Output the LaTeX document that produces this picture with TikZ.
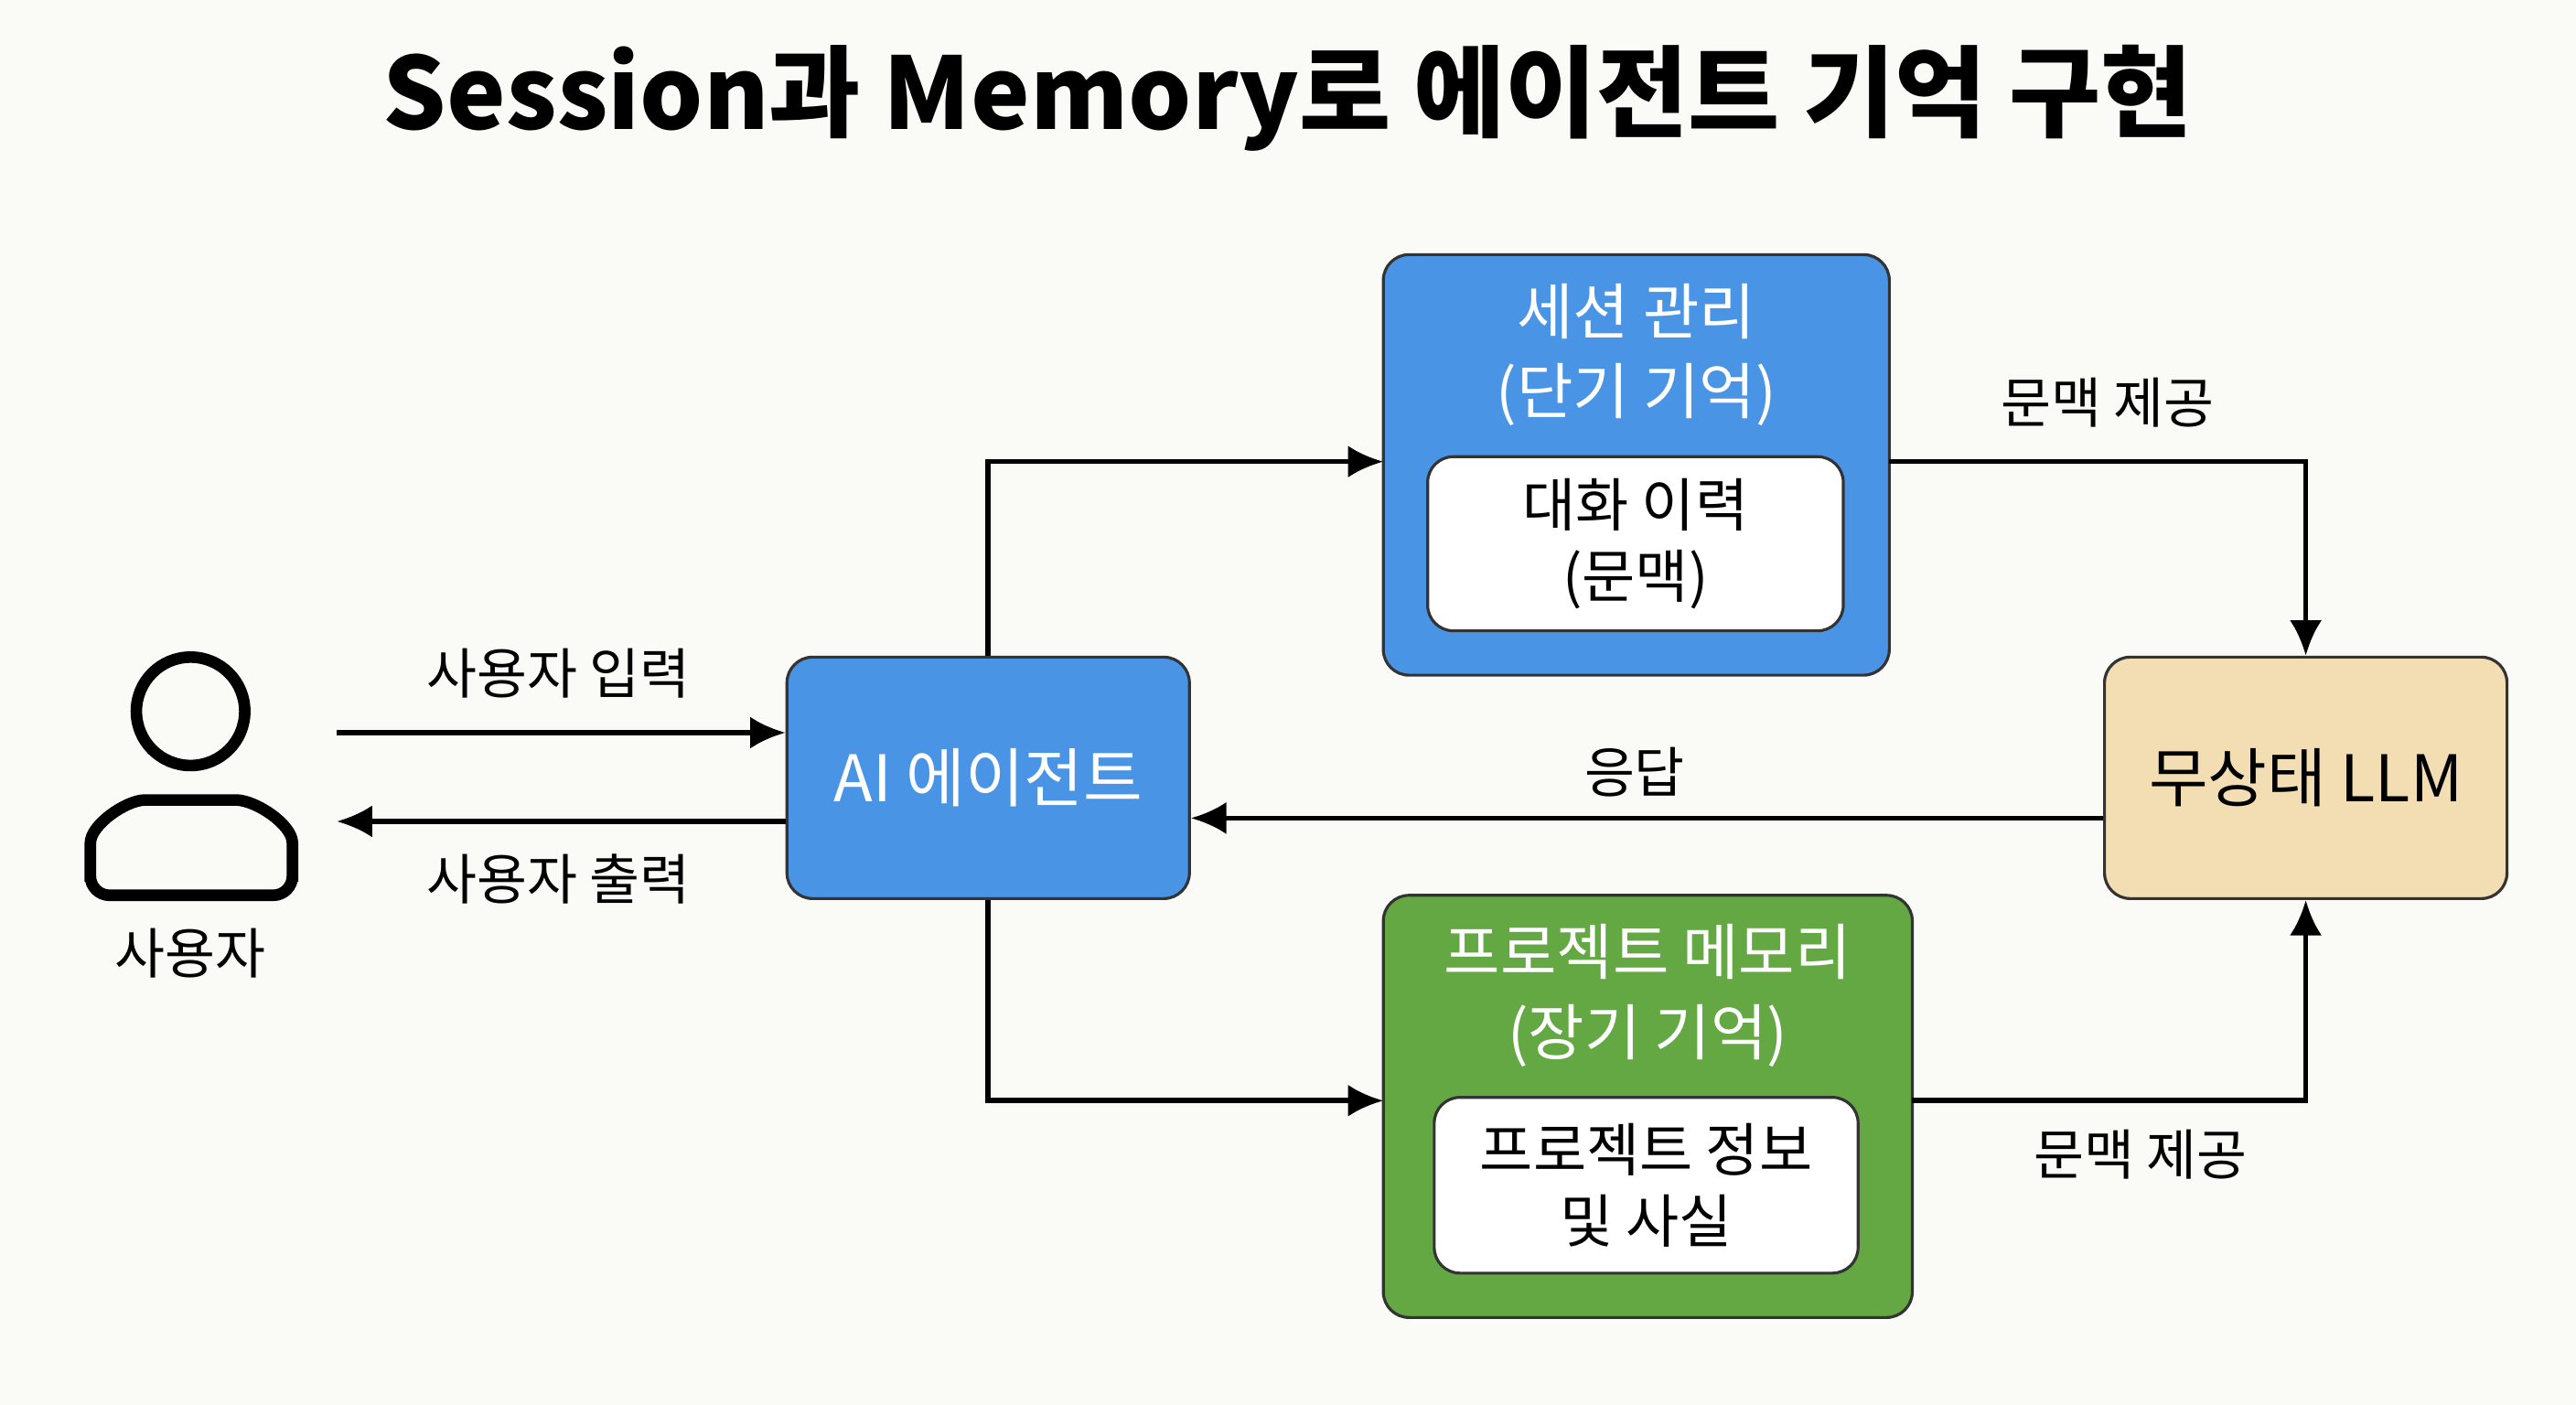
\documentclass[tikz,border=0pt]{standalone}
\usepackage{fontspec}
\setmainfont{Noto Sans CJK KR}
\usetikzlibrary{arrows.meta}
\definecolor{bg}{HTML}{FAFAF7}
\definecolor{bblue}{HTML}{4A94E6}
\definecolor{gr}{HTML}{64A843}
\definecolor{tan}{HTML}{F3DDB3}
\begin{document}
\begin{tikzpicture}[x=0.01796cm,y=-0.01796cm,
  box/.style={draw=black!80,line width=0.9pt,rounded corners=8pt,inner sep=0pt},
  inner/.style={box,fill=white,font=\fontsize{18}{22}\selectfont,align=center},
  arr/.style={line width=1.6pt,-{Latex[length=11pt,width=10pt]}},
  lab/.style={font=\fontsize{17}{20}\selectfont}]
\fill[bg] (0,0) rectangle (1568,855);
\useasboundingbox (0,0) rectangle (1568,855);
\node[font=\fontsize{31}{36}\selectfont\bfseries] (title) at (784,60) {Session과 Memory로 에이전트 기억 구현};
% person
\draw[line width=3.6pt] (116,433) circle (33);
\draw[line width=3.6pt,rounded corners=6pt] (55,545) -- (55,525) to[out=90,in=180] (100,487) -- (132,487) to[out=0,in=90] (178,525) -- (178,545) -- cycle;
\node[lab] (user) at (116,580) {사용자};
\coordinate (uin) at (205,446);
\coordinate (uout) at (205,500);
% boxes
\node[box,fill=bblue,minimum width=245*0.01796cm,minimum height=147*0.01796cm,text=white,font=\fontsize{20}{24}\selectfont] (agent) at (601.5,473.5) {AI 에이전트};
\node[box,fill=tan,minimum width=245*0.01796cm,minimum height=147*0.01796cm,font=\fontsize{20}{24}\selectfont] (llm) at (1403.5,473.5) {무상태 LLM};
\node[box,fill=bblue,minimum width=308*0.01796cm,minimum height=256*0.01796cm] (sess) at (996,283) {};
\node[text=white,font=\fontsize{19}{25}\selectfont,align=center] (sesst) at (996,216) {세션 관리\\(단기 기억)};
\node[inner,minimum width=253*0.01796cm,minimum height=106*0.01796cm] (sessi) at (995.5,331) {대화 이력\\(문맥)};
\node[box,fill=gr,minimum width=322*0.01796cm,minimum height=257*0.01796cm] (proj) at (1003,673.5) {};
\node[text=white,font=\fontsize{19}{25}\selectfont,align=center] (projt) at (1003,606) {프로젝트 메모리\\(장기 기억)};
\node[inner,minimum width=258*0.01796cm,minimum height=107*0.01796cm] (proji) at (1002,721.5) {프로젝트 정보\\및 사실};
% connectors
\draw[arr] (uin) -- (uin -| agent.west);
\node[lab] (l1) at (340,410) {사용자 입력};
\draw[arr] (uout -| agent.west) -- (uout);
\node[lab] (l2) at (340,535) {사용자 출력};
\draw[arr] (agent.north) |- (842,281);
\draw[arr] (agent.south) |- (842,670);
\draw[arr] (1150,281) -| (llm.north);
\node[lab] (l3) at (1283,245) {문맥 제공};
\draw[arr] (1164,670) -| (llm.south);
\node[lab] (l4) at (1303,703) {문맥 제공};
\draw[arr] (llm.west |- 0,498) -- (agent.east |- 0,498);
\node[lab] (l5) at (995,470) {응답};
\end{tikzpicture}
\end{document}
